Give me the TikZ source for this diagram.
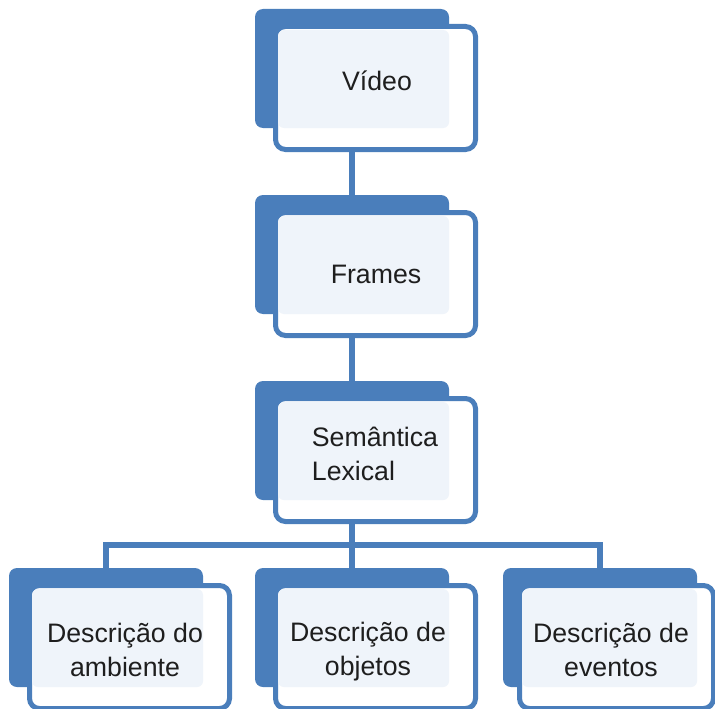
\documentclass[tikz,border=0pt]{standalone}
\usepackage{fontspec}
\setmainfont{Liberation Sans}
\definecolor{smBlue}{RGB}{74,126,187}
\definecolor{smLight}{RGB}{239,244,250}
\definecolor{smText}{RGB}{30,30,30}
\tikzstyle{bS}=[rectangle,rounded corners=8pt,fill=smBlue,minimum width=194pt,minimum height=119pt,inner sep=0pt]
\tikzstyle{fS}=[rectangle,rounded corners=10pt,draw=smBlue,line width=5pt,fill=white,minimum width=200pt,minimum height=123pt,inner sep=0pt]
\tikzstyle{lS}=[rectangle,rounded corners=6pt,fill=smLight,minimum width=171pt,minimum height=98pt,inner sep=0pt]
\tikzstyle{tS}=[inner sep=0pt,text=smText,font=\fontsize{26.7}{34}\selectfont]
\tikzstyle{cS}=[draw=smBlue,line width=5.5pt]

\begin{document}
\begin{tikzpicture}[x=1pt,y=-1pt]
    \useasboundingbox (0,0) rectangle (715,709);

    \draw (352,68.5) node[bS] (vid) {};
    \draw (375.5,88) node[fS] (vidF) {};
    \draw (363.5,79) node[lS] (vidL) {};
    \draw (377,90) node[tS,anchor=base] (vidT) {Vídeo};

    \draw (352,254.5) node[bS] (frm) {};
    \draw (375.5,274) node[fS] (frmF) {};
    \draw (363.5,265) node[lS] (frmL) {};
    \draw (376,283) node[tS,anchor=base] (frmT) {Frames};

    \draw (352,440.5) node[bS] (sem) {};
    \draw (375.5,460) node[fS] (semF) {};
    \draw (363.5,451) node[lS] (semL) {};
    \draw (375,454) node[tS,align=left] (semT) {Semântica\\Lexical};

    \draw (106,627.5) node[bS] (amb) {};
    \draw (129.5,647) node[fS] (ambF) {};
    \draw (117.5,638) node[lS] (ambL) {};
    \draw (125,650) node[tS,align=center] (ambT) {Descrição do\\ambiente};

    \draw (352,627.5) node[bS] (obj) {};
    \draw (375.5,647) node[fS] (objF) {};
    \draw (363.5,638) node[lS] (objL) {};
    \draw (368,652) node[tS,align=center] (objT) {Descrição de\\objetos};

    \draw (600,627.5) node[bS] (evt) {};
    \draw (616.5,647) node[fS,minimum width=194pt] (evtF) {};
    \draw (609.5,638) node[lS,minimum width=175pt] (evtL) {};
    \draw (611,650) node[tS,align=center] (evtT) {Descrição de\\eventos};

    \coordinate (bar) at (352,545);

    \path[cS]
        (vid |- vidF.south) edge (frm.north)
        (frm |- frmF.south) edge (sem.north)
    ;
    \draw[cS] (sem |- semF.south) -- (bar) -- (obj.north);
    \draw[cS] (amb.north) |- (bar) -| (evt.north);
\end{tikzpicture}
\end{document}
